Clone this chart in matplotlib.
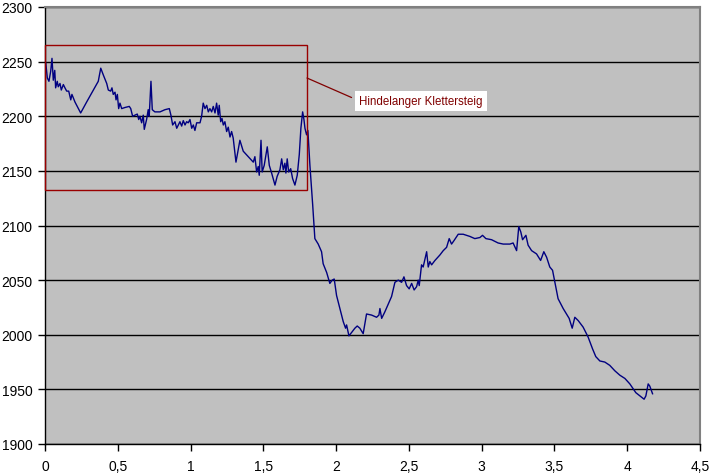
import matplotlib
matplotlib.use("Agg")
import matplotlib.pyplot as plt
from matplotlib.patches import Rectangle
from matplotlib.ticker import FuncFormatter

# Distance (km) and altitude (m)
distance_km = [
    0.005, 0.016, 0.027, 0.039, 0.048, 0.057, 0.067, 0.073, 0.084, 0.091,
    0.103, 0.112, 0.126, 0.137, 0.149, 0.163, 0.177, 0.185, 0.206, 0.245,
    0.286, 0.332, 0.366, 0.383, 0.400, 0.424, 0.435, 0.451, 0.460, 0.469,
    0.481, 0.488, 0.497, 0.506, 0.515, 0.527, 0.549, 0.579, 0.589, 0.602,
    0.618, 0.634, 0.644, 0.652, 0.664, 0.675, 0.682, 0.698, 0.709, 0.716,
    0.728, 0.737, 0.755, 0.790, 0.824, 0.854, 0.865, 0.877, 0.893, 0.905,
    0.916, 0.927, 0.939, 0.950, 0.962, 0.973, 0.984, 0.996, 1.008, 1.019,
    1.030, 1.042, 1.065, 1.076, 1.087, 1.099, 1.111, 1.122, 1.133, 1.145,
    1.156, 1.168, 1.179, 1.190, 1.197, 1.207, 1.216, 1.225, 1.236, 1.248,
    1.259, 1.271, 1.282, 1.293, 1.312, 1.339, 1.362, 1.396, 1.431, 1.442,
    1.454, 1.465, 1.472, 1.484, 1.492, 1.506, 1.527, 1.541, 1.557, 1.580,
    1.595, 1.614, 1.626, 1.637, 1.648, 1.655, 1.664, 1.674, 1.688, 1.701,
    1.717, 1.733, 1.747, 1.758, 1.770, 1.779, 1.786, 1.797, 1.806, 1.820,
    1.839, 1.854, 1.877, 1.900, 1.911, 1.935, 1.957, 1.973, 1.987, 2.003,
    2.026, 2.049, 2.065, 2.072, 2.088, 2.106, 2.129, 2.145, 2.163, 2.186,
    2.209, 2.244, 2.278, 2.294, 2.301, 2.313, 2.335, 2.358, 2.381, 2.404,
    2.427, 2.450, 2.466, 2.484, 2.502, 2.519, 2.536, 2.553, 2.564, 2.571,
    2.587, 2.598, 2.622, 2.633, 2.644, 2.656, 2.679, 2.713, 2.736, 2.759,
    2.777, 2.793, 2.809, 2.839, 2.873, 2.919, 2.953, 2.988, 3.006, 3.029,
    3.068, 3.113, 3.148, 3.171, 3.194, 3.216, 3.240, 3.255, 3.269, 3.281,
    3.304, 3.319, 3.343, 3.377, 3.405, 3.427, 3.446, 3.468, 3.487, 3.503,
    3.525, 3.560, 3.601, 3.622, 3.640, 3.663, 3.697, 3.731, 3.762, 3.784,
    3.812, 3.846, 3.880, 3.915, 3.949, 3.984, 4.018, 4.059, 4.087, 4.116,
    4.128, 4.144, 4.155, 4.174,
]
altitude_m = [
    2249, 2235, 2232, 2241, 2253, 2233, 2242, 2226, 2232, 2227,
    2230, 2224, 2229, 2226, 2223, 2223, 2215, 2220, 2213, 2203,
    2213, 2224, 2232, 2244, 2238, 2230, 2224, 2223, 2226, 2220,
    2222, 2215, 2220, 2207, 2212, 2207, 2208, 2209, 2207, 2200,
    2201, 2202, 2197, 2200, 2194, 2201, 2188, 2197, 2206, 2200,
    2232, 2206, 2204, 2204, 2206, 2207, 2201, 2192, 2195, 2189,
    2192, 2195, 2191, 2196, 2192, 2195, 2194, 2197, 2189, 2192,
    2187, 2194, 2194, 2200, 2212, 2207, 2210, 2204, 2207, 2204,
    2209, 2203, 2212, 2201, 2210, 2195, 2198, 2192, 2195, 2186,
    2190, 2181, 2186, 2180, 2158, 2178, 2168, 2163, 2158, 2163,
    2149, 2154, 2146, 2178, 2149, 2155, 2172, 2155, 2148, 2137,
    2145, 2151, 2161, 2151, 2157, 2148, 2161, 2149, 2152, 2143,
    2137, 2146, 2165, 2189, 2204, 2197, 2189, 2183, 2187, 2155,
    2119, 2088, 2083, 2076, 2065, 2057, 2047, 2050, 2051, 2036,
    2024, 2012, 2006, 2009, 1999, 2002, 2006, 2008, 2006, 2001,
    2019, 2018, 2016, 2018, 2024, 2015, 2021, 2028, 2035, 2048,
    2050, 2048, 2053, 2045, 2042, 2047, 2041, 2044, 2050, 2045,
    2064, 2062, 2076, 2062, 2067, 2064, 2068, 2073, 2077, 2080,
    2088, 2083, 2086, 2092, 2092, 2090, 2088, 2089, 2091, 2088,
    2087, 2084, 2083, 2083, 2083, 2084, 2077, 2099, 2094, 2087,
    2091, 2082, 2077, 2074, 2068, 2076, 2071, 2062, 2059, 2048,
    2033, 2024, 2015, 2006, 2016, 2013, 2007, 1998, 1987, 1980,
    1976, 1975, 1972, 1967, 1963, 1960, 1955, 1947, 1944, 1941,
    1944, 1955, 1953, 1946,
]

x_ticks = [0, 0.5, 1, 1.5, 2, 2.5, 3, 3.5, 4, 4.5]
y_ticks = [1900, 1950, 2000, 2050, 2100, 2150, 2200, 2250, 2300]

highlight_label = "Hindelanger Klettersteig"
highlight_x = [0.0, 1.80]
highlight_y = [2132.5, 2265]

plt.rcParams['font.family'] = ['Liberation Sans', 'DejaVu Sans']

fig = plt.figure(figsize=(7.12, 4.77), dpi=100)
ax = fig.add_axes([45/712, 1 - 445/477, 655/712, 437/477])
ax.set_facecolor('#C0C0C0')

ax.set_xlim(0, 4.5)
ax.set_ylim(1900, 2300)
ax.set_xticks(x_ticks)
ax.set_yticks(y_ticks)
ax.xaxis.set_major_formatter(FuncFormatter(lambda v, p: f"{v:g}".replace('.', ',')))
ax.yaxis.set_major_formatter(FuncFormatter(lambda v, p: f"{v:.0f}"))

ax.grid(axis='y', color='black', linewidth=1.0)
ax.set_axisbelow(True)

ax.tick_params(axis='both', direction='out', length=5, width=1, colors='black',
               labelsize=10, pad=6)
ax.tick_params(axis='y', pad=4)

for s in ['left', 'bottom']:
    ax.spines[s].set_color('black')
    ax.spines[s].set_linewidth(1.0)
for s in ['top', 'right']:
    ax.spines[s].set_color('#808080')
    ax.spines[s].set_linewidth(1.5)

ax.plot(distance_km, altitude_m, color='#000080', linewidth=1.0, zorder=3)

rect = Rectangle((highlight_x[0], highlight_y[0]),
                 highlight_x[1] - highlight_x[0], highlight_y[1] - highlight_y[0],
                 fill=False, edgecolor='#990000', linewidth=1.0, zorder=4,
                 clip_on=False)
ax.add_patch(rect)

ax.annotate(highlight_label, xy=(highlight_x[1], 2235), xytext=(2.16, 2214),
            fontsize=8.3, color='#800000', va='center', ha='left',
            bbox=dict(boxstyle='square,pad=0.35', facecolor='white', edgecolor='none'),
            arrowprops=dict(arrowstyle='-', color='#800000', linewidth=0.9,
                            shrinkA=3, shrinkB=0, relpos=(0, 0.5)),
            zorder=5)

fig.savefig('out.png', dpi=100)
